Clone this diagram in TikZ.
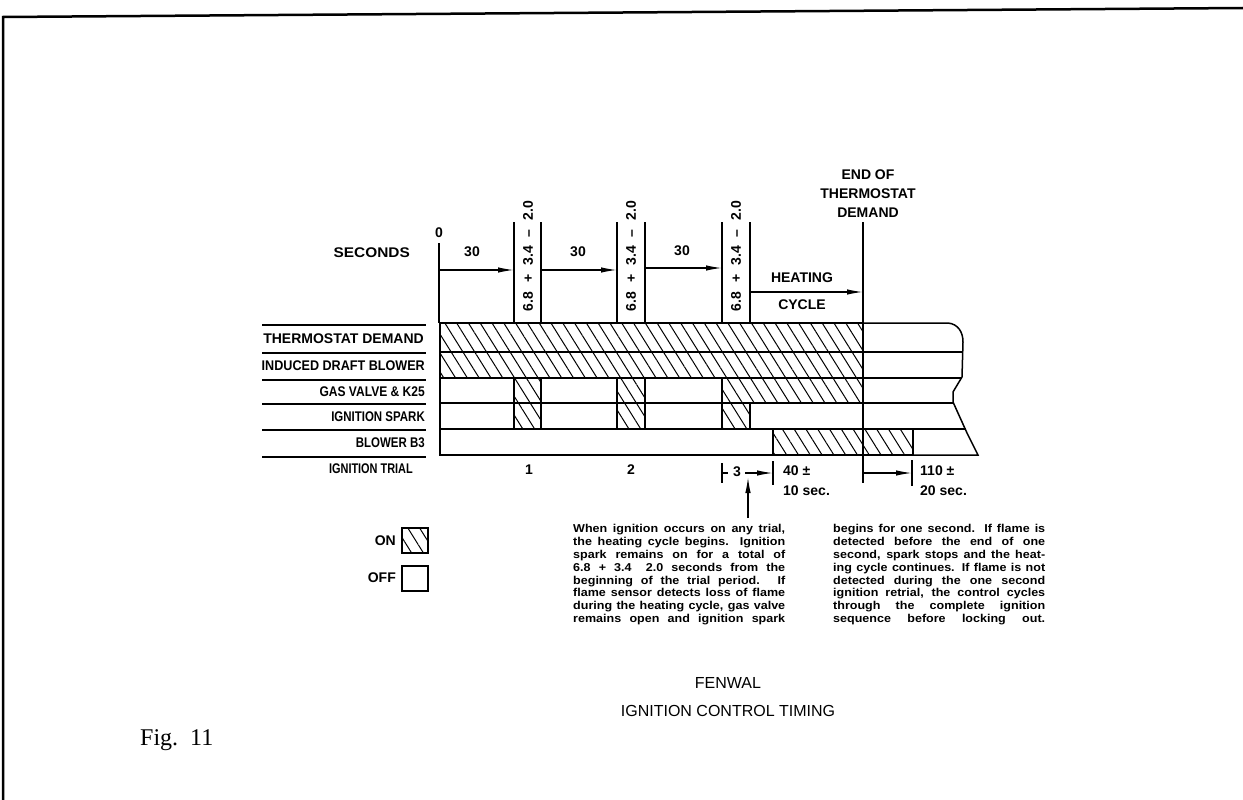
\documentclass[tikz,border=0pt]{standalone}
\usepackage{graphicx}
\usepackage{fontspec}
\setmainfont{Liberation Sans}
\newfontfamily\figfont{Liberation Serif}
\newfontfamily\parafont{Liberation Sans}[FakeStretch=1.1]
\usetikzlibrary{arrows.meta,patterns.meta}
\newcommand\pline[1]{\hbox to 212pt{#1}}
\newcommand\sx[2]{\scalebox{#1}[1]{#2}}
\begin{document}
\begin{tikzpicture}[x=1pt,y=-1pt,
  lw/.style={line width=1.5pt},
  onbox/.style={draw,line width=1.5pt,pattern={Lines[angle=-58,distance=10pt,line width=1pt]}},
  offbox/.style={draw,line width=1.5pt},
  lab/.style={font=\bfseries\fontsize{14}{16}\selectfont,inner sep=0pt},
  ttl/.style={font=\fontsize{16}{19}\selectfont,inner sep=0pt},
  arr/.style={line width=1.4pt,-{Latex[length=16pt,width=5.5pt]}},
  para/.style={font=\parafont\bfseries\fontsize{11.4}{12.9}\selectfont,inner sep=0pt,anchor=north west}
]
\useasboundingbox (0,0) rectangle (1243,800);
\fill[white] (0,0) rectangle (1243,800);

% page border
\draw[line width=2.5pt] (3,800) -- (3,17) -- (1243,8);

% row label rules and labels
\foreach \yy in {325,353,380,404,430,457} \draw[lw] (262,\yy) -- (426,\yy);
\node[lab,anchor=east] (ltd) at (424,339) {THERMOSTAT DEMAND};
\node[lab,anchor=east] (lidb) at (425,366) {\sx{0.9}{INDUCED DRAFT BLOWER}};
\node[lab,anchor=east] (lgv) at (425,392) {\sx{0.86}{GAS VALVE \& K25}};
\node[lab,anchor=east] (lis) at (425,417) {\sx{0.82}{IGNITION SPARK}};
\node[lab,anchor=east] (lb3) at (425,443) {\sx{0.82}{BLOWER B3}};
\node[lab,anchor=east] (lit) at (413,469) {\sx{0.78}{IGNITION TRIAL}};
\node[lab,anchor=east] (lsec) at (410,253) {\sx{1.1}{SECONDS}};

% chart rows, left part
\draw[onbox] (440,323) rectangle (863,352);
\draw[onbox] (440,352) rectangle (863,378);
\draw[offbox] (440,378) rectangle (514,403);
\draw[onbox] (514,378) rectangle (541,403);
\draw[offbox] (541,378) rectangle (617,403);
\draw[onbox] (617,378) rectangle (645,403);
\draw[offbox] (645,378) rectangle (722,403);
\draw[onbox] (722,378) rectangle (863,403);
\draw[offbox] (440,403) rectangle (514,429);
\draw[onbox] (514,403) rectangle (541,429);
\draw[offbox] (541,403) rectangle (617,429);
\draw[onbox] (617,403) rectangle (645,429);
\draw[offbox] (645,403) rectangle (722,429);
\draw[onbox] (722,403) rectangle (750,429);
\draw[offbox] (750,403) rectangle (863,429);
\draw[offbox] (440,429) rectangle (773,455);
\draw[onbox] (773,429) rectangle (863,455);

% chart right part with break edge
\draw[onbox] (863,429) rectangle (913,455);
\draw[lw] (863,323) -- (948,323) .. controls (958,324) and (963,332) .. (963,342)
  -- (962,377) -- (953,392) -- (953,402) -- (967,433) -- (978,455) -- (863,455);
\draw[lw] (863,352) -- (963,352);
\draw[lw] (863,378) -- (962,378);
\draw[lw] (863,403) -- (953,403);
\draw[lw] (863,429) -- (966,429);

% time axis
\node[lab] (t0) at (439,233) {0};
\draw[lw] (439,243) -- (439,323);
\foreach \xa/\xb in {514/541,617/645,722/750} {
  \draw[lw] (\xa,222) -- (\xa,323);
  \draw[lw] (\xb,222) -- (\xb,323);
}
\node[lab,rotate=90] (r1) at (528,256) {6.8\hspace{9pt}+\hspace{9pt}3.4\hspace{9pt}--\hspace{9pt}2.0};
\node[lab,rotate=90] (r2) at (631,256) {6.8\hspace{9pt}+\hspace{9pt}3.4\hspace{9pt}--\hspace{9pt}2.0};
\node[lab,rotate=90] (r3) at (736,256) {6.8\hspace{9pt}+\hspace{9pt}3.4\hspace{9pt}--\hspace{9pt}2.0};
\node[lab] (s1) at (472,252) {30};
\node[lab] (s2) at (578,252) {30};
\node[lab] (s3) at (682,251) {30};
\coordinate (a0) at (439,270);
\coordinate (a1) at (514,270);
\coordinate (b0) at (541,270);
\coordinate (b1) at (617,270);
\coordinate (c0) at (645,268);
\coordinate (c1) at (722,268);
\draw[arr] (a0) -- (a1);
\draw[arr] (b0) -- (b1);
\draw[arr] (c0) -- (c1);
\node[lab] (heat) at (802,278) {HEATING};
\node[lab] (cyc) at (802,305) {CYCLE};
\coordinate (h0) at (750,292);
\coordinate (h1) at (863,292);
\draw[arr] (h0) -- (h1);

% end of thermostat demand
\node[lab] (e1) at (868,175) {END OF};
\node[lab] (e2) at (868,194) {THERMOSTAT};
\node[lab] (e3) at (868,213) {DEMAND};
\draw[line width=1.9pt] (863,222) -- (863,483);

% ignition trial row
\node[lab] (n1) at (529,470) {1};
\node[lab] (n2) at (631,470) {2};
\draw[lw] (722,463) -- (722,483);
\draw[lw] (722,473) -- (728,473);
\node[lab] (n3) at (737,472) {3};
\coordinate (g0) at (745,473);
\coordinate (g1) at (773,473);
\draw[arr] (g0) -- (g1);
\draw[lw] (773,461) -- (773,485);
\node[lab,anchor=west] (t40) at (783,471) {40 ±};
\node[lab,anchor=west] (t10) at (783,491) {10 sec.};
\coordinate (k0) at (863,473);
\coordinate (k1) at (912,473);
\draw[arr] (k0) -- (k1);
\draw[lw] (912,460) -- (912,486);
\node[lab,anchor=west] (t110) at (920,471) {110 ±};
\node[lab,anchor=west] (t20) at (920,491) {20 sec.};

% note arrow
\coordinate (v0) at (748,518);
\coordinate (v1) at (748,477);
\draw[arr] (v0) -- (v1);

% explanatory text
\node[para] (p1) at (573,524) {\vbox{%
\pline{When ignition occurs on any trial,}
\pline{the heating cycle begins. Ignition}
\pline{spark remains on for a total of}
\pline{6.8 + 3.4\hspace{6pt} 2.0 seconds from the}
\pline{beginning of the trial period. If}
\pline{flame sensor detects loss of flame}
\pline{during the heating cycle, gas valve}
\pline{remains open and ignition spark}}};
\node[para] (p2) at (833,524) {\vbox{%
\pline{begins for one second. If flame is}
\pline{detected before the end of one}
\pline{second, spark stops and the heat-}
\pline{ing cycle continues. If flame is not}
\pline{detected during the one second}
\pline{ignition retrial, the control cycles}
\pline{through the complete ignition}
\pline{sequence before locking out.}}};

% legend
\node[lab,anchor=east] (lon) at (396,541) {ON};
\draw[onbox] (402,528) rectangle (428,553);
\node[lab,anchor=east] (loff) at (396,578) {OFF};
\draw[offbox] (402,566) rectangle (428,591);

% titles
\node[ttl] (f1) at (728,683) {FENWAL};
\node[ttl] (f2) at (728,711) {IGNITION CONTROL TIMING};
\node[font=\figfont\fontsize{24}{28}\selectfont,inner sep=0pt,anchor=west] (fig) at (140,740) {Fig.\ \ 11};
\end{tikzpicture}
\end{document}
